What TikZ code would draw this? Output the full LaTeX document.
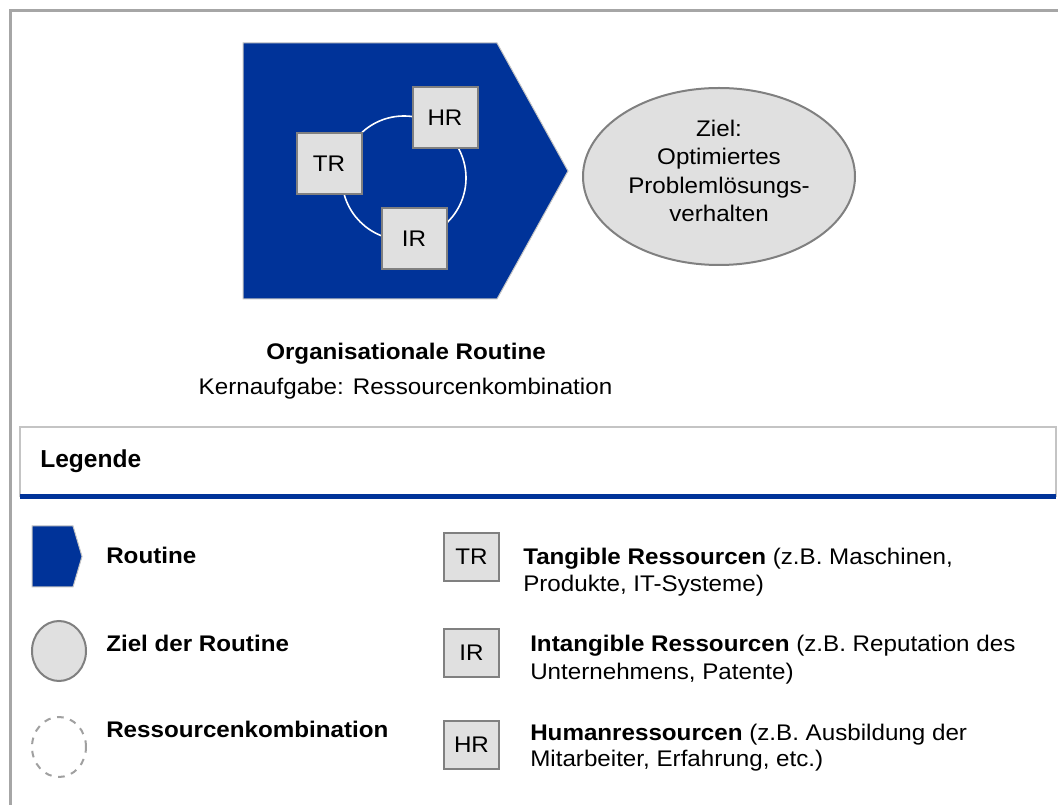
\documentclass[tikz,border=0pt]{standalone}
\usepackage{fontspec}
\setmainfont{Liberation Sans}[FakeStretch=1.07]
\newfontfamily\headfont{Liberation Sans}
\usetikzlibrary{shapes.geometric}
\definecolor{routineblue}{RGB}{0,51,153}
\definecolor{boxfill}{RGB}{224,224,224}
\definecolor{boxline}{RGB}{128,128,128}
\definecolor{framegray}{RGB}{166,166,166}
\definecolor{thingray}{RGB}{196,196,196}
\begin{document}
\begin{tikzpicture}[x=0.75pt,y=-0.75pt,
  txt/.style={font=\fontsize{16.95}{21}\selectfont, inner sep=0pt},
  bold/.style={font=\fontsize{16.95}{21}\selectfont\bfseries, inner sep=0pt},
  routine/.style={fill=routineblue, draw=thingray, line width=0.75pt},
  resbox/.style={draw=boxline, fill=boxfill, line width=1.5pt, inner sep=0pt,
    font=\fontsize{16.95}{21}\selectfont},
  bigbox/.style={resbox, minimum width=48.75pt, minimum height=45.75pt},
  smallbox/.style={resbox, minimum width=41.25pt, minimum height=36pt},
  goal/.style={ellipse, draw=boxline, fill=boxfill, line width=1.5pt, inner sep=0pt},
  combo/.style={ellipse, draw=boxline!75, dash pattern=on 5pt off 5pt, line width=1.5pt, inner sep=0pt}
]
\useasboundingbox (0,0) rectangle (1058,805);

% outer frame (top and left edges)
\draw[framegray, line width=2.25pt] (10.5,805) -- (10.5,11) -- (1058,11);

% routine chevron with the resource combination
\draw[routine] (243,43) -- (497,43) -- (568,171) -- (497,299) -- (243,299) -- cycle;
\draw[white, line width=1.2pt] (404,178) circle [radius=62];
\node[bigbox] (tr) at (329,163.5) {TR};
\node[bigbox] (hr) at (445,118) {HR};
\node[bigbox] (ir) at (414,238.5) {IR};

% goal of the routine
\node[goal, minimum width=204pt, minimum height=132.75pt] (ziel) at (719,176.5) {};
\node[txt, align=center, font=\fontsize{16.95}{21.45}\selectfont] (zieltext) at (719,171)
  {Ziel:\\Optimiertes\\Problemlösungs-\\verhalten};

% captions
\node[bold, anchor=base] (title) at (406,360) {Organisationale Routine};
\node[txt, anchor=base] (task) at (405.5,395) {Kernaufgabe: Ressourcenkombination};

% legend header
\draw[thingray, line width=1.1pt] (20,497) -- (20,427) -- (1056,427) -- (1056,497);
\draw[routineblue, line width=3.75pt] (20,497) -- (1056,497);
\node[anchor=base west, inner sep=0pt, font=\headfont\bfseries\fontsize{18.4}{22}\selectfont] (leg) at (40,468) {Legende};

% legend: left column
\draw[routine] (32,526) -- (73,526) -- (82,556.5) -- (73,587) -- (32,587) -- cycle;
\node[bold, anchor=base west] (lroutine) at (106,564) {Routine};
\node[goal, minimum width=40.5pt, minimum height=45pt] (lgoal) at (59,651) {};
\node[bold, anchor=base west] (lziel) at (106,652) {Ziel der Routine};
\node[combo, minimum width=40.5pt, minimum height=45pt] (lcombo) at (59,747) {};
\node[bold, anchor=base west] (lkomb) at (106,738) {Ressourcenkombination};

% legend: right column
\node[smallbox] (ltr) at (471.5,557) {TR};
\node[txt, anchor=base west] (ltra) at (523,565) {\bfseries Tangible Ressourcen \mdseries(z.B. Maschinen,};
\node[txt, anchor=base west] (ltrb) at (523,592) {Produkte, IT-Systeme)};
\node[smallbox] (lir) at (471.5,653) {IR};
\node[txt, anchor=base west] (lira) at (530,652) {\bfseries Intangible Ressourcen \mdseries(z.B. Reputation des};
\node[txt, anchor=base west] (lirb) at (530,680) {Unternehmens, Patente)};
\node[smallbox] (lhr) at (471.5,745) {HR};
\node[txt, anchor=base west] (lhra) at (530,740) {\bfseries Humanressourcen \mdseries(z.B. Ausbildung der};
\node[txt, anchor=base west] (lhrb) at (530,767) {Mitarbeiter, Erfahrung, etc.)};
\end{tikzpicture}
\end{document}
